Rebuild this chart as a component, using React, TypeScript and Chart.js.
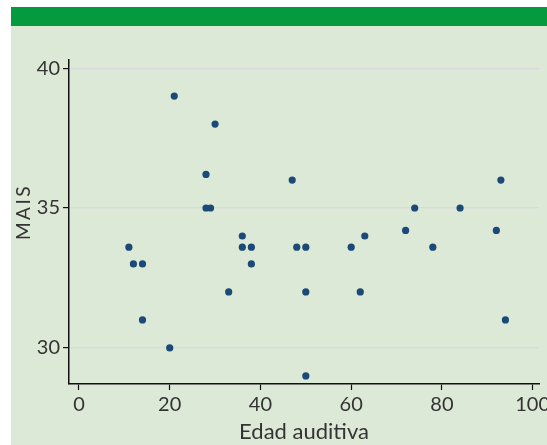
import React, { useEffect, useRef } from "react";
import { Chart, registerables } from "chart.js";

Chart.register(...registerables);

const edadAuditiva: number[] = [11, 12, 14, 14, 20, 21, 28, 28, 29, 30, 33, 36, 36, 38, 38, 47, 48, 50, 50, 50, 60, 62, 63, 72, 74, 78, 84, 92, 93, 94];
const mais: number[] = [33.6, 33, 33, 31, 30, 39, 36.2, 35, 35, 38, 32, 34, 33.6, 33.6, 33, 36, 33.6, 33.6, 32, 29, 33.6, 32, 34, 34.2, 35, 33.6, 35, 34.2, 36, 31];
const xTicks: number[] = [0, 20, 40, 60, 80, 100];
const yTicks: number[] = [30, 35, 40];
const xTitle = "Edad auditiva";
const yTitle = "MAIS";

const FONT = "Lato, 'Open Sans', sans-serif";
const TEXT = "#333333";

const yTitlePlugin = {
  id: "yTitlePlugin",
  afterDraw(chart: any) {
    const ctx = chart.ctx as CanvasRenderingContext2D;
    const area = chart.chartArea;
    ctx.save();
    ctx.translate(13, (area.top + area.bottom) / 2 - 9);
    ctx.rotate(-Math.PI / 2);
    ctx.font = `19px ${FONT}`;
    (ctx as any).letterSpacing = "2.5px";
    ctx.fillStyle = TEXT;
    ctx.textAlign = "center";
    ctx.textBaseline = "middle";
    ctx.fillText(yTitle, 1, 0);
    ctx.restore();
  },
};

export default function App() {
  const ref = useRef<HTMLCanvasElement | null>(null);

  useEffect(() => {
    if (!ref.current) return;
    const points = edadAuditiva.map((x, i) => ({ x, y: mais[i] }));
    const chart = new Chart(ref.current, {
      type: "scatter",
      data: {
        datasets: [
          {
            data: points,
            backgroundColor: "#1b4a78",
            borderWidth: 0,
            pointRadius: 3.6,
            pointHoverRadius: 3.6,
          },
        ],
      },
      options: {
        animation: false,
        responsive: false,
        devicePixelRatio: 1,
        layout: { padding: { top: 34, right: 8, left: 0, bottom: 0 } },
        plugins: { legend: { display: false }, tooltip: { enabled: false } },
        scales: {
          x: {
            type: "linear",
            min: -2.2,
            max: 101.4,
            afterBuildTicks: (s: any) => {
              s.ticks = xTicks.map((v) => ({ value: v }));
            },
            afterFit: (s: any) => {
              s.height = 61;
              s.paddingLeft = 0;
              s.paddingRight = 0;
            },
            border: { color: "#111", width: 1.5 },
            grid: { drawOnChartArea: false, tickLength: 6, tickColor: "#111", tickWidth: 1.2 },
            ticks: { color: TEXT, font: { family: FONT, size: 20 }, padding: 3, maxRotation: 0 },
            title: { display: true, text: xTitle, color: TEXT, font: { family: FONT, size: 22 }, padding: { top: 0, bottom: 0 } },
          },
          y: {
            type: "linear",
            min: 28.71,
            max: 40.29,
            afterBuildTicks: (s: any) => {
              s.ticks = yTicks.map((v) => ({ value: v }));
            },
            afterFit: (s: any) => {
              s.width = 58;
              s.paddingTop = 0;
              s.paddingBottom = 0;
            },
            border: { color: "#111", width: 1.5 },
            grid: { color: "#d9d8dd", lineWidth: 1.2, tickLength: 6, tickColor: "#111", tickWidth: 1.2 },
            ticks: { color: TEXT, font: { family: FONT, size: 20 }, padding: 3 },
            title: { display: false },
          },
        },
      },
      plugins: [yTitlePlugin],
    });
    return () => chart.destroy();
  }, []);

  return (
    <div style={{ position: "absolute", left: 11, top: 7, width: 536, height: 438, background: "#dde9d7" }}>
      <div style={{ height: 19, background: "#059a3e" }} />
      <canvas ref={ref} width={536} height={419} style={{ display: "block" }} />
    </div>
  );
}
